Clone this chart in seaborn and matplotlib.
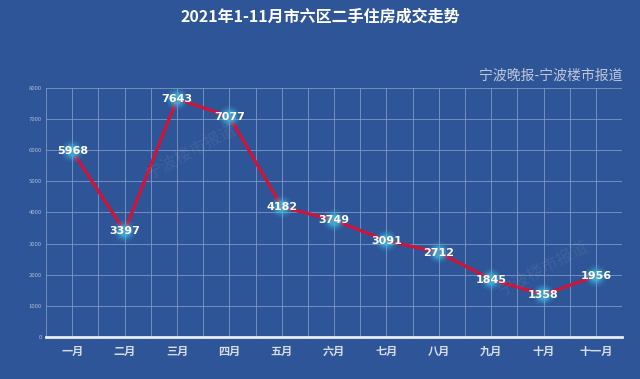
import matplotlib
matplotlib.use('Agg')
import matplotlib.pyplot as plt
import seaborn as sns
import pandas as pd
import numpy as np

months = ['一月', '二月', '三月', '四月', '五月', '六月', '七月', '八月', '九月', '十月', '十一月']
deals = [5968, 3397, 7643, 7077, 4182, 3749, 3091, 2712, 1845, 1358, 1956]
title = '2021年1-11月市六区二手住房成交走势'
source = '宁波晚报-宁波楼市报道'
watermark = '宁波楼市报道'

bg = '#2e5597'
sns.set_theme(style='white')
plt.rcParams['font.family'] = ['Noto Sans CJK SC', 'DejaVu Sans']

df = pd.DataFrame({'x': np.arange(len(months)), 'y': deals})

fig = plt.figure(figsize=(6.4, 3.79), dpi=100, facecolor=bg)
ax = fig.add_axes([0.072, 0.111, 0.900, 0.657])
ax.set_facecolor(bg)

sns.lineplot(data=df, x='x', y='y', ax=ax, color='#c8163e', linewidth=2.4, zorder=3)
# glowing markers
for s, a in [(260, 0.12), (170, 0.2), (110, 0.35), (60, 0.6)]:
    sns.scatterplot(data=df, x='x', y='y', ax=ax, s=s, color='#3fb6e0', alpha=a,
                    edgecolor='none', zorder=4, legend=False)
for xi, yi in zip(df['x'], df['y']):
    ax.text(xi, yi, str(yi), ha='center', va='center', color='white', fontsize=8,
            fontweight='bold', family=['Liberation Sans Narrow', 'DejaVu Sans'], zorder=5)

ax.set_xlim(-0.5, len(months) - 0.5)
ax.set_ylim(0, 8000)
ax.set_xticks(np.arange(len(months)))
ax.set_xticklabels(months, color='#d8dde8', fontsize=8, fontweight='bold')
ax.set_xticks(np.arange(-0.5, len(months), 1.0), minor=True)
ax.set_yticks(np.arange(0, 8001, 1000))
ax.set_yticklabels([str(v) for v in range(0, 8001, 1000)], color='#aeb9d2', fontsize=4.3)
ax.grid(True, which='both', axis='x', color='#7f98c4', linewidth=0.6)
ax.grid(True, which='major', axis='y', color='#7f98c4', linewidth=0.6)
ax.tick_params(axis='both', which='both', length=0, pad=3)
ax.tick_params(axis='x', pad=6)
ax.set_xlabel('')
ax.set_ylabel('')
for sp in ['top', 'right', 'left']:
    ax.spines[sp].set_visible(False)
ax.spines['bottom'].set_color('#e8ecf4')
ax.spines['bottom'].set_linewidth(2)

fig.text(0.5, 0.955, title, ha='center', va='center', color='white', fontsize=11.5, fontweight='bold')
fig.text(0.972, 0.80, source, ha='right', va='center', color='#c0c8da', fontsize=10)
for wx, wy in [(0.30, 0.60), (0.85, 0.29)]:
    fig.text(wx, wy, watermark, ha='center', va='center', color='white', alpha=0.08,
             fontsize=12, rotation=28)

fig.savefig('out.png', dpi=100, facecolor=bg)
